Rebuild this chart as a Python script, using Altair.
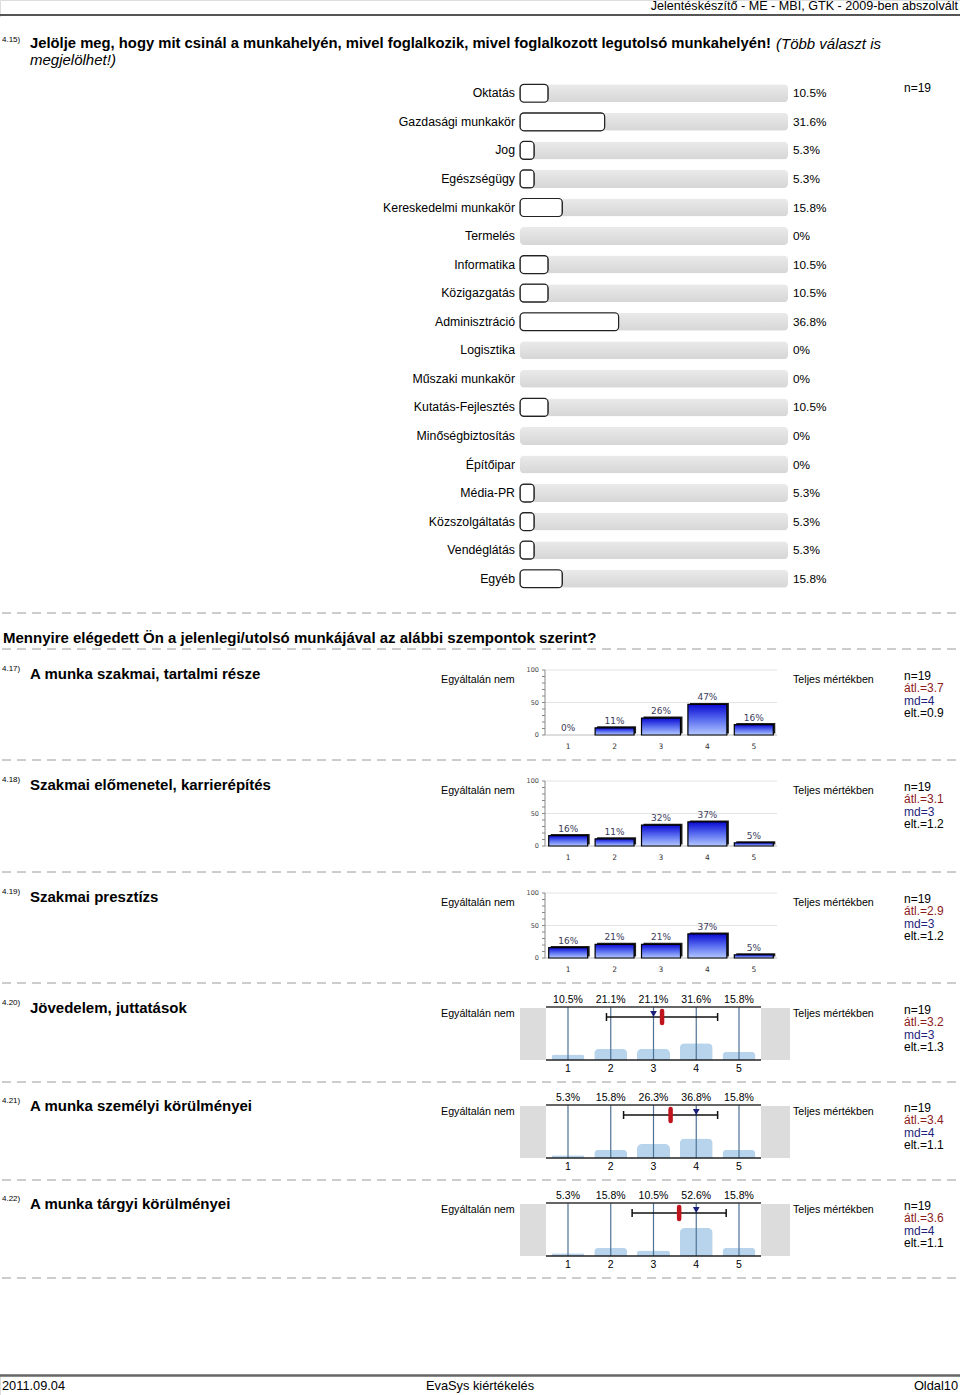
import altair as alt
import pandas as pd

# ---------------- data ----------------
header_text = "Jelentéskészítő - ME - MBI, GTK -  2009-ben abszolvált"
footer_left = "2011.09.04"
footer_mid = "EvaSys kiértékelés"
footer_right = "Oldal10"

q415_id = "4.15)"
q415_title = "Jelölje meg, hogy mit csinál a munkahelyén, mivel foglalkozik, mivel foglalkozott legutolsó munkahelyén!"
q415_note1 = "(Több választ is"
q415_note2 = "megjelölhet!)"
q415_n = "n=19"
categories = ["Oktatás", "Gazdasági munkakör", "Jog", "Egészségügy", "Kereskedelmi munkakör",
              "Termelés", "Informatika", "Közigazgatás", "Adminisztráció", "Logisztika",
              "Műszaki munkakör", "Kutatás-Fejlesztés", "Minőségbiztosítás", "Építőipar",
              "Média-PR", "Közszolgáltatás", "Vendéglátás", "Egyéb"]
shares = [10.5, 31.6, 5.3, 5.3, 15.8, 0, 10.5, 10.5, 36.8, 0, 0, 10.5, 0, 0, 5.3, 5.3, 5.3, 15.8]

block_title = "Mennyire elégedett Ön a jelenlegi/utolsó munkájával az alábbi szempontok szerint?"
left_pole = "Egyáltalán nem"
right_pole = "Teljes mértékben"
scale_points = [1, 2, 3, 4, 5]

hist_ids = ["4.17)", "4.18)", "4.19)"]
hist_titles = ["A munka szakmai, tartalmi része", "Szakmai előmenetel, karrierépítés", "Szakmai presztízs"]
hist_pcts = [[0, 11, 26, 47, 16], [16, 11, 32, 37, 5], [16, 21, 21, 37, 5]]
hist_n = [19, 19, 19]
hist_mean = [3.7, 3.1, 2.9]
hist_md = [4, 3, 3]
hist_sd = [0.9, 1.2, 1.2]

prof_ids = ["4.20)", "4.21)", "4.22)"]
prof_titles = ["Jövedelem, juttatások", "A munka személyi körülményei", "A munka tárgyi körülményei"]
prof_pcts = [[10.5, 21.1, 21.1, 31.6, 15.8], [5.3, 15.8, 26.3, 36.8, 15.8], [5.3, 15.8, 10.5, 52.6, 15.8]]
prof_n = [19, 19, 19]
prof_mean = [3.2, 3.4, 3.6]
prof_md = [3, 4, 4]
prof_sd = [1.3, 1.1, 1.1]

# ---------------- styling ----------------
SANS = "'Liberation Sans', Arial, Helvetica, sans-serif"
SMALL = "'DejaVu Sans', Verdana, sans-serif"
ONE = pd.DataFrame({"k": [0]})

GRAY_GRAD = alt.Gradient(gradient="linear", x1=0, x2=0, y1=0, y2=1,
                         stops=[alt.GradientStop(color="#eaeaea", offset=0),
                                alt.GradientStop(color="#d6d6d6", offset=1)])
BLUE_GRAD = alt.Gradient(gradient="linear", x1=0, x2=0, y1=0, y2=1,
                         stops=[alt.GradientStop(color="#0a0ad2", offset=0),
                                alt.GradientStop(color="#5a6ef0", offset=0.5),
                                alt.GradientStop(color="#b4c8ff", offset=1)])


def text(t, x, y, size=12, font=SANS, weight="normal", style="normal", color="#000", align="left"):
    return alt.Chart(ONE).mark_text(text=t, fontSize=size, font=font, fontWeight=weight,
                                    fontStyle=style, color=color, align=align,
                                    baseline="middle").encode(x=alt.value(x), y=alt.value(y))


def hrule(x1, x2, y, color="#000", width=1.0, dash=None):
    kw = dict(color=color, strokeWidth=width)
    if dash:
        kw["strokeDash"] = dash
    return alt.Chart(ONE).mark_rule(**kw).encode(x=alt.value(x1), x2=alt.value(x2), y=alt.value(y))


def vrule(x, y1, y2, color="#000", width=1.0):
    return alt.Chart(ONE).mark_rule(color=color, strokeWidth=width).encode(
        x=alt.value(x), y=alt.value(y1), y2=alt.value(y2))


def box(x1, x2, y1, y2, color):
    return alt.Chart(ONE).mark_rect(color=color).encode(x=alt.value(x1), x2=alt.value(x2),
                                                       y=alt.value(y1), y2=alt.value(y2))


layers = []

# header / footer
layers.append(text(header_text, 958, 6, 12.6, align="right"))
layers.append(box(0, 960, 14, 16, "#555"))
layers.append(box(0, 960, 1374.3, 1376.8, "#666"))
layers.append(text(footer_left, 2, 1386, 12.8))
layers.append(text(footer_mid, 480, 1386, 12.8, align="center"))
layers.append(text(footer_right, 958, 1386, 12.8, align="right"))

# question 4.15
layers.append(text(q415_id, 2, 40, 8))
layers.append(text(q415_title, 30, 44, 14.8, weight="bold"))
layers.append(text(q415_note1, 776, 44, 15, style="italic"))
layers.append(text(q415_note2, 30, 60, 15, style="italic"))
layers.append(text(q415_n, 904, 88, 12))

df415 = pd.DataFrame({"cat": categories, "share": shares})
df415["full"] = 100.0
df415["lbl"] = ["0%" if v == 0 else f"{v:.1f}%" for v in shares]
y415 = alt.Y("cat:N", axis=None, sort=None,
             scale=alt.Scale(domain=categories, range=[79, 593], paddingInner=0.37, paddingOuter=0.185))
x415 = alt.Scale(domain=[0, 100], range=[520, 788], nice=False, padding=0)
b415 = alt.Chart(df415)
layers.append(alt.layer(
    b415.mark_bar(cornerRadius=4, color=GRAY_GRAD).encode(
        x=alt.X("full:Q", scale=x415, axis=None), y=y415),
    b415.transform_filter("datum.share > 0").mark_bar(
        cornerRadius=4, fill="white", stroke="#222", strokeWidth=1.2).encode(
        x=alt.X("share:Q", scale=x415, axis=None), y=y415),
    b415.mark_text(align="right", baseline="middle", fontSize=12.3, font=SANS).encode(
        x=alt.value(515), y=y415, text="cat:N"),
    b415.mark_text(align="left", baseline="middle", fontSize=11.8, font=SANS).encode(
        x=alt.value(793), y=y415, text="lbl:N"),
))

# separators
for yy in [613, 649, 760, 872, 983, 1082, 1180, 1278]:
    layers.append(hrule(2, 960, yy, "#9a9a9a", 1, dash=[9, 6]))

layers.append(text(block_title, 3, 638, 15, weight="bold"))


def stats(x, y, n, mean, md, sd):
    return [text(f"n={n}", x, y, 12),
            text(f"átl.={mean}", x, y + 12.3, 12, color="#8b1a1a"),
            text(f"md={md}", x, y + 24.6, 12, color="#1f1f7a"),
            text(f"elt.={sd}", x, y + 36.9, 12)]


def section_text(base, sid, title, n, mean, md, sd):
    out = [text(sid, 2, base, 8),
           text(title, 30, base + 5, 15, weight="bold"),
           text(left_pole, 441, base + 11, 10.7),
           text(right_pole, 793, base + 11, 10.7)]
    return out + stats(904, base + 7, n, mean, md, sd)


# histogram questions
for i, base in enumerate([669, 780, 892]):
    layers += section_text(base, hist_ids[i], hist_titles[i], hist_n[i], hist_mean[i], hist_md[i], hist_sd[i])
    y0 = base + 66
    d = pd.DataFrame({"pt": scale_points, "pct": hist_pcts[i]})
    d["lbl"] = [f"{v}%" for v in hist_pcts[i]]
    xs = alt.Scale(domain=scale_points, range=[545, 777], paddingInner=0.16, paddingOuter=0.08)
    ys = alt.Scale(domain=[0, 100], range=[y0, y0 - 65], nice=False, padding=0)
    X = alt.X("pt:O", scale=xs, axis=None)
    Yv = alt.Y("v:Q", scale=ys, axis=None)
    b = alt.Chart(d)
    pos = b.transform_filter("datum.pct > 0")
    layers.append(alt.layer(
        alt.Chart(pd.DataFrame({"v": [50, 100]})).mark_rule(color="#e3e3e3").encode(
            y=Yv, x=alt.value(545), x2=alt.value(777)),
        alt.Chart(pd.DataFrame({"v": list(range(0, 101, 10))})).mark_rule(color="#888").encode(
            y=Yv, x=alt.value(542), x2=alt.value(545)),
        alt.Chart(pd.DataFrame({"v": [0, 50, 100]})).mark_text(
            align="right", baseline="middle", fontSize=6.5, font=SMALL, color="#444").encode(
            y=Yv, x=alt.value(539), text="v:Q"),
        vrule(545, y0 - 65, y0, "#888", 1),
        hrule(545, 777, y0, "#bbb", 1),
        pos.mark_bar(color="#202020", xOffset=2, yOffset=-1.5).encode(
            x=X, y=alt.Y("pct:Q", scale=ys, axis=None)),
        pos.mark_bar(color=BLUE_GRAD, stroke="#000", strokeWidth=1.2).encode(
            x=X, y=alt.Y("pct:Q", scale=ys, axis=None)),
        b.mark_text(dy=-2, fontSize=9, font=SMALL, color="#3b3b5c", baseline="bottom").encode(
            x=X, y=alt.Y("pct:Q", scale=ys, axis=None), text="lbl:N"),
        b.mark_text(fontSize=7.5, font=SMALL, color="#333", baseline="middle").encode(
            x=X, y=alt.value(y0 + 12), text="pt:O"),
    ))

# profile questions
for i, base in enumerate([1003, 1101, 1199]):
    layers += section_text(base, prof_ids[i], prof_titles[i], prof_n[i], prof_mean[i], prof_md[i], prof_sd[i])
    yt = base + 4
    d = pd.DataFrame({"pt": scale_points, "pct": prof_pcts[i]})
    d["lbl"] = [f"{v:.1f}%" for v in prof_pcts[i]]
    s = pd.DataFrame({"mean": [prof_mean[i]], "md": [prof_md[i]], "sd": [prof_sd[i]]})
    s["lo"] = s["mean"] - s["sd"]
    s["hi"] = s["mean"] + s["sd"]
    xs = alt.Scale(domain=[1, 5], range=[568, 739], nice=False, zero=False, padding=0)
    ys = alt.Scale(domain=[0, 100], range=[yt + 53, yt], nice=False, padding=0)

    def X(f):
        return alt.X(f"{f}:Q", scale=xs, axis=None)

    b = alt.Chart(d)
    sc = alt.Chart(s)
    layers.append(alt.layer(
        box(520, 546, yt + 1, yt + 53, "#dcdcdc"),
        box(761, 790, yt + 1, yt + 53, "#dcdcdc"),
        b.mark_bar(orient="vertical", size=33, cornerRadiusTopLeft=5, cornerRadiusTopRight=5,
                   color="#b8d4ed").encode(x=X("pt"), y=alt.Y("pct:Q", scale=ys, axis=None)),
        b.mark_rule(color="#4d7394", strokeWidth=1.2).encode(
            x=X("pt"), y=alt.value(yt), y2=alt.value(yt + 53)),
        hrule(546, 761, yt, "#333", 1.4),
        hrule(546, 761, yt + 53, "#222", 1.6),
        b.mark_text(fontSize=10.5, font=SANS, baseline="middle").encode(
            x=X("pt"), y=alt.value(yt - 7), text="lbl:N"),
        b.mark_text(fontSize=10.5, font=SANS, baseline="middle").encode(
            x=X("pt"), y=alt.value(yt + 62), text="pt:Q"),
        sc.mark_rule(color="#111", strokeWidth=1.5).encode(
            x=X("lo"), x2=alt.X2("hi:Q"), y=alt.value(yt + 10)),
        sc.mark_rule(color="#111", strokeWidth=1.5).encode(
            x=X("lo"), y=alt.value(yt + 6), y2=alt.value(yt + 14)),
        sc.mark_rule(color="#111", strokeWidth=1.5).encode(
            x=X("hi"), y=alt.value(yt + 6), y2=alt.value(yt + 14)),
        sc.mark_point(shape="triangle-down", filled=True, color="#1b1f7a", size=45, opacity=1).encode(
            x=X("md"), y=alt.value(yt + 7)),
        sc.mark_rule(color="#c0141c", strokeWidth=4.5, strokeCap="round").encode(
            x=X("mean"), y=alt.value(yt + 4), y2=alt.value(yt + 16)),
    ))

# white cover strip along the left page edge
layers.append(box(0, 1.8, 17, 1374, "#ffffff"))

chart = alt.layer(*layers).resolve_scale(x="independent", y="independent").properties(
    width=960, height=1395, padding=0, autosize="none"
).configure_view(stroke="transparent").configure(background="white")

chart.save("out.html", embed_options={"renderer": "svg", "actions": False})
